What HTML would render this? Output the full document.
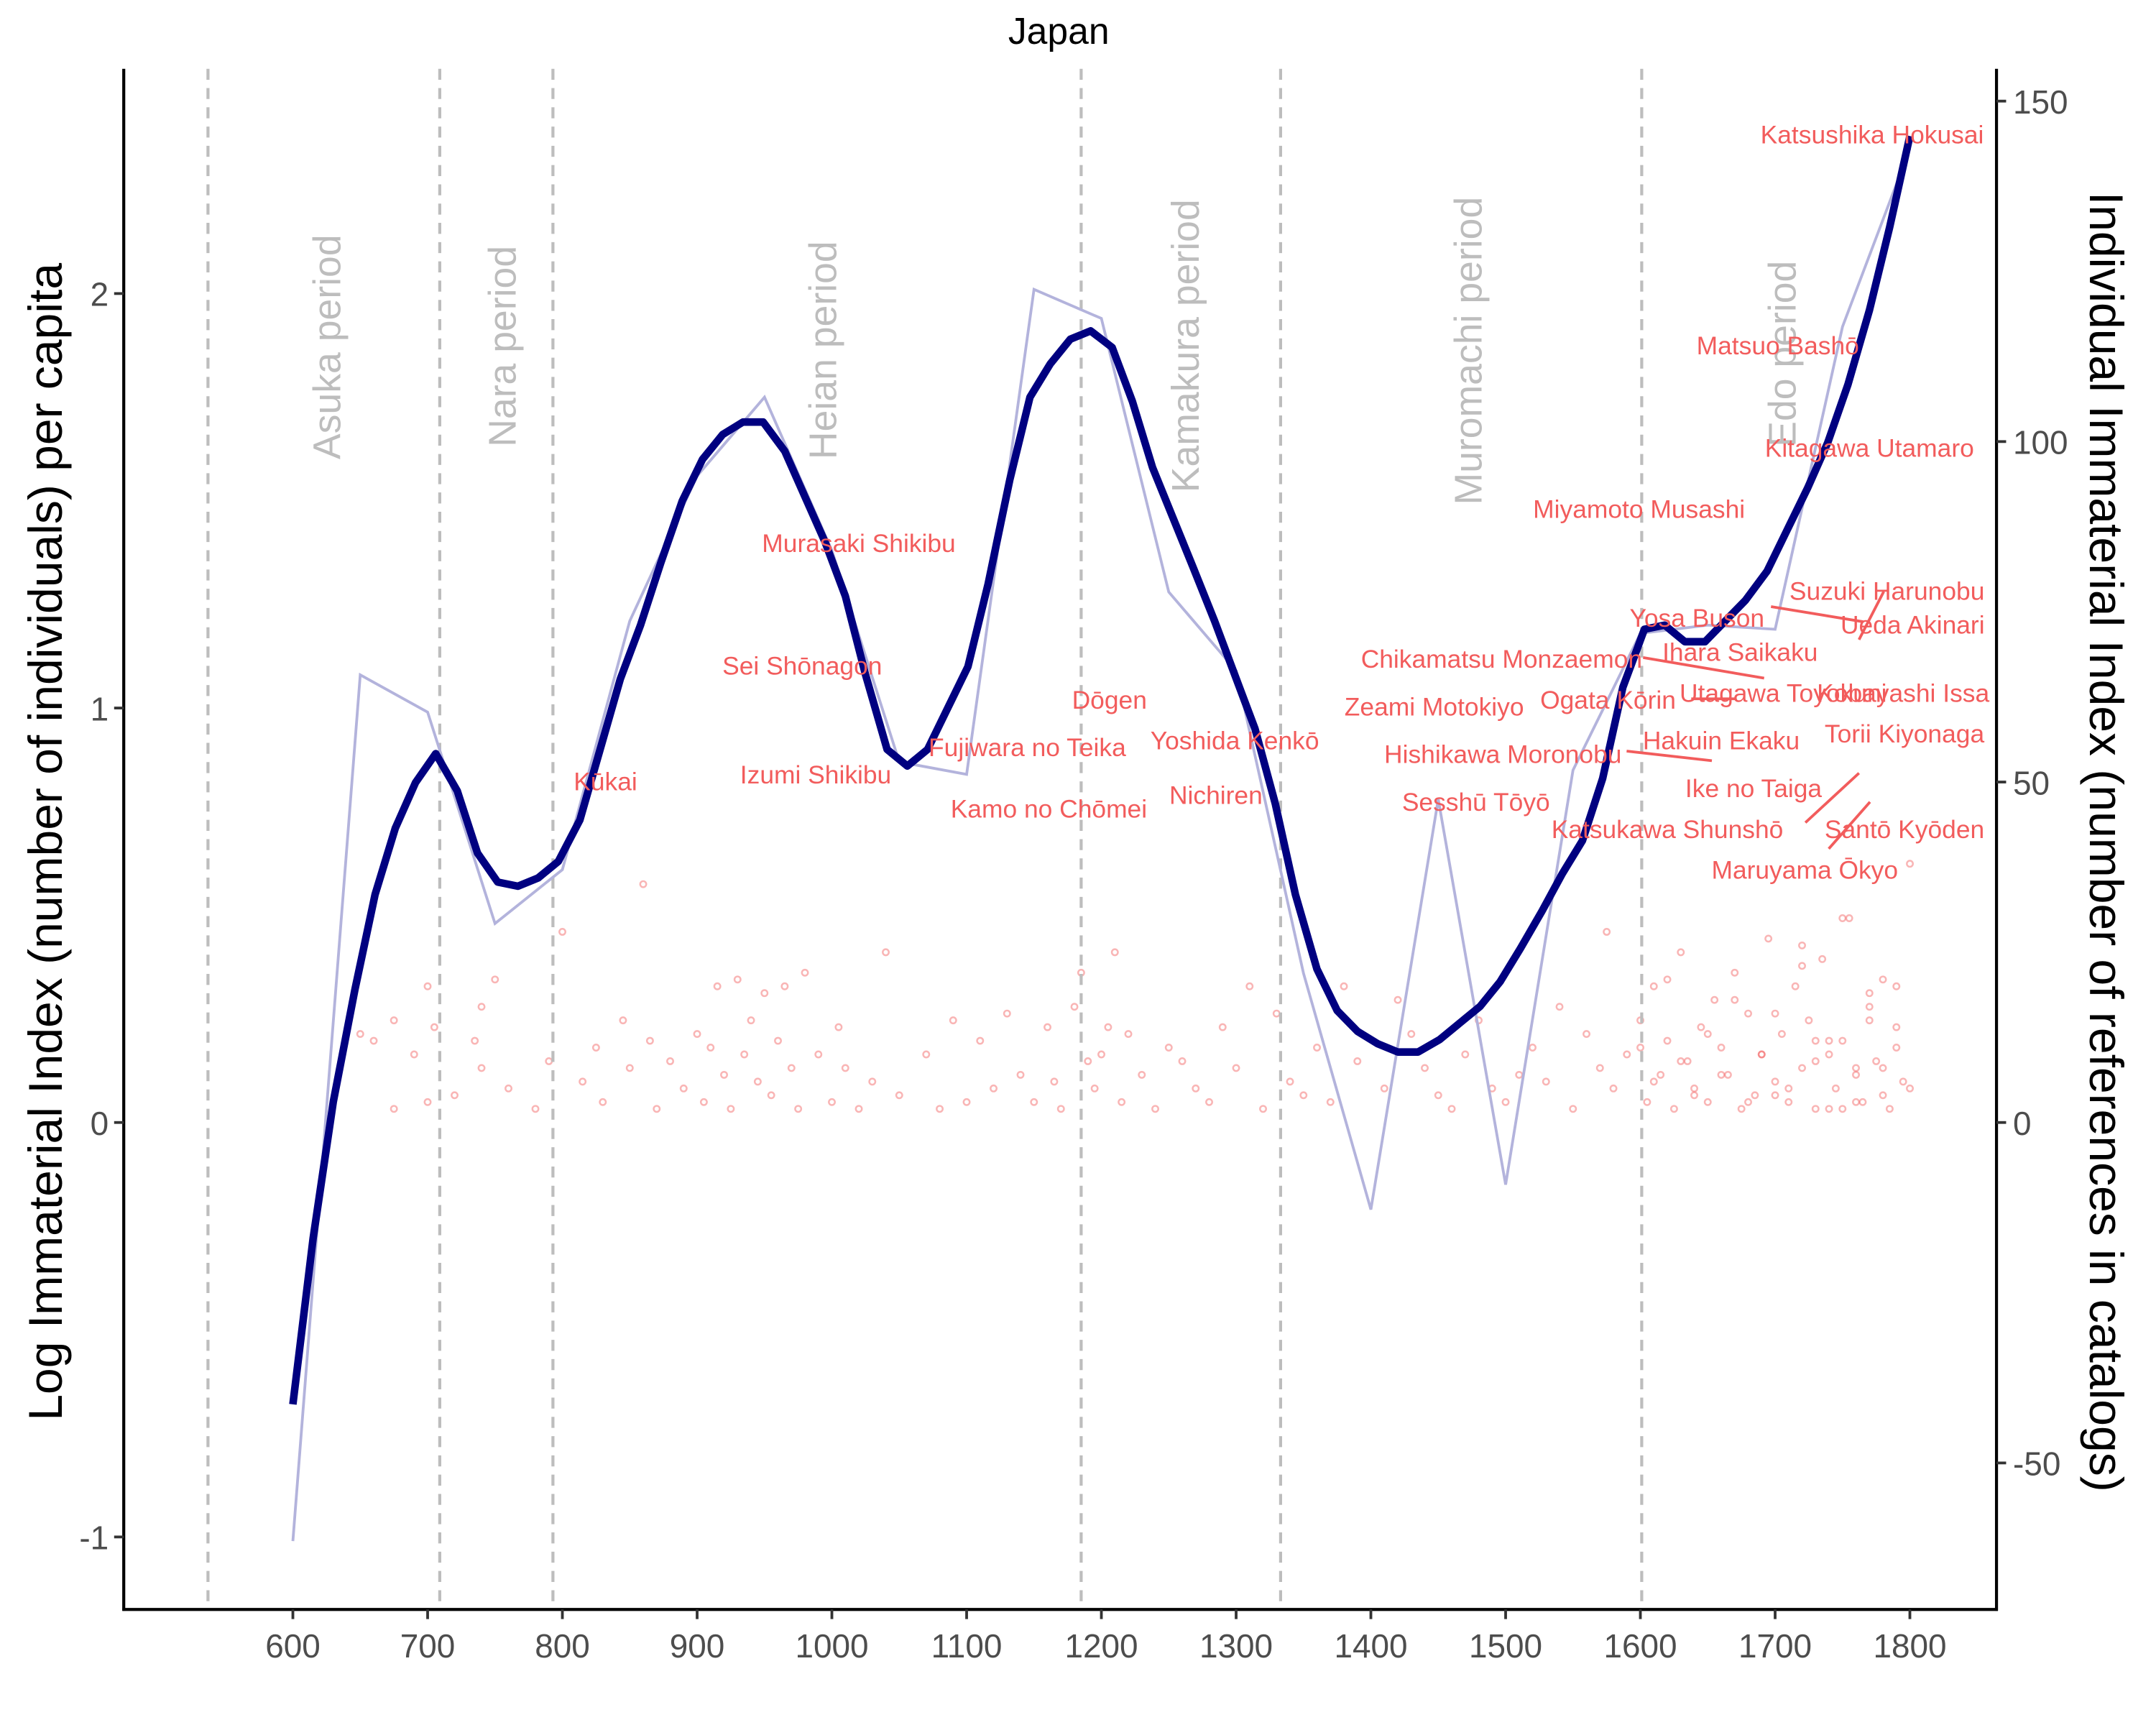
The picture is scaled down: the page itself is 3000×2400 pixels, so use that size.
<!DOCTYPE html>
<html><head><meta charset="utf-8"><style>
html,body{margin:0;padding:0;background:#fff;}
svg{display:block;font-family:"Liberation Sans","Noto Sans CJK JP",sans-serif;}
</style></head><body>
<svg id="chart" width="3000" height="2400" viewBox="0 0 1568 1254" preserveAspectRatio="none" xmlns="http://www.w3.org/2000/svg">
<g id="dots"></g>
<g id="vlines"></g>
<g id="periods"></g>
<g id="lines"></g>
<g id="labels"></g>
<g id="axes"></g>
<text x="770" y="32" text-anchor="middle" font-size="27" fill="#000">Japan</text>
<text transform="translate(45,612) rotate(-90)" text-anchor="middle" font-size="34.5" fill="#000">Log Immaterial Index (number of individuals) per capita</text>
<text transform="translate(1520,612) rotate(90)" text-anchor="middle" font-size="34.5" fill="#000">Individual Immaterial Index (number of references in catalogs)</text>
</svg>
<script>
const smoothYears=[600,615,630,646,661,676,691,706,722,737,752,767,782,797,813,828,843,858,873,889,904,919,934,949,965,980,995,1010,1025,1041,1056,1071,1086,1101,1116,1132,1147,1162,1177,1192,1208,1223,1238,1253,1268,1284,1299,1314,1329,1344,1360,1375,1390,1405,1420,1435,1451,1466,1481,1496,1511,1527,1542,1557,1572,1587,1603,1618,1633,1648,1663,1678,1694,1709,1724,1739,1754,1770,1785,1800];
const smoothValues=[-0.68,-0.28,0.05,0.32,0.55,0.71,0.82,0.89,0.80,0.65,0.58,0.57,0.59,0.63,0.73,0.9,1.07,1.2,1.35,1.5,1.6,1.66,1.69,1.69,1.62,1.51,1.4,1.27,1.08,0.9,0.86,0.9,1.0,1.1,1.3,1.55,1.75,1.83,1.89,1.91,1.87,1.74,1.58,1.46,1.34,1.21,1.08,0.95,0.77,0.55,0.37,0.27,0.22,0.19,0.17,0.17,0.2,0.24,0.28,0.34,0.42,0.51,0.6,0.68,0.83,1.05,1.19,1.2,1.16,1.16,1.21,1.26,1.33,1.43,1.53,1.64,1.78,1.96,2.16,2.38];
const rawYears=[600,650,700,750,800,850,900,950,1000,1050,1100,1150,1200,1250,1300,1350,1400,1450,1500,1550,1600,1650,1700,1750,1800];
const rawValues=[-1.01,1.08,0.99,0.48,0.61,1.21,1.56,1.75,1.38,0.87,0.84,2.01,1.94,1.28,1.09,0.36,-0.21,0.78,-0.15,0.85,1.18,1.2,1.19,1.92,2.35];
const periodBreaks=[537,709,793,1185,1333,1601];
const periodNames=["Asuka period","Nara period","Heian period","Kamakura period","Muromachi period","Edo period"];
const periodYears=[625,755,993,1262,1472,1705];
const periodBottoms=[1.6,1.63,1.6,1.52,1.49,1.63];
const xTicks=[600,700,800,900,1000,1100,1200,1300,1400,1500,1600,1700,1800];
const yTicks=[-1,0,1,2];
const y2Ticks=[-50,0,50,100,150];
const personNames=["Katsushika Hokusai","Matsuo Bashō","Kitagawa Utamaro","Miyamoto Musashi","Suzuki Harunobu","Yosa Buson","Ueda Akinari","Ihara Saikaku","Chikamatsu Monzaemon","Ogata Kōrin","Utagawa Toyokuni","Kobayashi Issa","Zeami Motokiyo","Hakuin Ekaku","Torii Kiyonaga","Hishikawa Moronobu","Ike no Taiga","Sesshū Tōyō","Katsukawa Shunshō","Santō Kyōden","Maruyama Ōkyo","Murasaki Shikibu","Sei Shōnagon","Izumi Shikibu","Kūkai","Dōgen","Fujiwara no Teika","Yoshida Kenkō","Kamo no Chōmei","Nichiren"];
const personYears=[1772,1702,1770,1599,1783,1642,1802,1674,1497,1576,1706,1795,1447,1660,1796,1498,1684,1478,1620,1796,1722,1020,978,988,832,1206,1145,1299,1161,1285];
const personRefs=[145,114,99,90,78,74,73,69,68,62,63,63,61,56,57,54,49,47,43,43,37,85,67,51,50,62,55,56,46,48];
const dotYears=[650,660,675,675,690,700,700,705,720,735,740,740,750,760,780,790,800,815,825,830,845,850,860,865,870,880,890,900,905,910,915,920,925,930,935,940,945,950,955,960,965,970,975,980,990,1000,1005,1010,1020,1030,1040,1050,1070,1080,1090,1100,1110,1120,1130,1140,1150,1160,1165,1170,1180,1185,1190,1195,1200,1205,1210,1215,1220,1230,1240,1250,1260,1270,1280,1290,1300,1310,1320,1330,1340,1350,1360,1370,1380,1390,1410,1420,1430,1440,1450,1460,1470,1480,1490,1500,1510,1520,1530,1540,1550,1560,1570,1575,1580,1590,1600,1605,1610,1615,1620,1625,1630,1635,1640,1645,1650,1655,1660,1665,1670,1675,1680,1685,1690,1695,1700,1705,1710,1715,1720,1725,1730,1735,1740,1745,1750,1755,1760,1765,1770,1775,1780,1785,1790,1795,1800,1790,1780,1770,1760,1750,1740,1730,1720,1710,1700,1690,1680,1670,1660,1650,1640,1630,1620,1610,1600,1760,1770,1780,1790,1800,1750,1740,1730,1720,1700];
const dotRefs=[13,12,2,15,10,3,20,14,4,12,17,8,21,5,2,9,28,6,11,3,15,8,35,12,2,9,5,13,3,11,20,7,2,21,10,15,6,19,4,12,20,8,2,22,10,3,14,8,2,6,25,4,10,2,15,3,12,5,16,7,3,14,6,2,17,22,9,5,10,14,25,3,13,7,2,11,9,5,3,14,8,20,2,16,6,4,11,3,20,9,5,18,13,8,4,2,10,15,5,3,7,11,6,17,2,13,8,28,5,10,15,3,20,7,12,2,25,9,5,14,3,18,11,7,22,2,16,4,10,27,6,13,3,20,8,15,2,24,10,5,12,30,7,3,17,9,21,2,14,6,38,11,4,19,8,30,2,12,23,5,16,10,3,18,7,13,4,9,21,6,11,3,15,8,20,5,2,12,9,26,4,33,13,7,18,25,3,6];
const NS="http://www.w3.org/2000/svg";
function xs(y){return 213+(y-600)*0.98;}
function ys(v){return 816-v*301.3;}
function ys2(r){return 816-r*4.95;}
function mk(tag,attrs,parent){const e=document.createElementNS(NS,tag);for(const k in attrs)e.setAttribute(k,attrs[k]);parent.appendChild(e);return e;}
const gd=document.getElementById('dots');
dotYears.forEach((yr,i)=>{const c=mk('circle',{cx:xs(yr),cy:ys2(dotRefs[i]),r:2.2,fill:'none',stroke:'#f25c5c','stroke-opacity':0.45,'stroke-width':1.3},gd);

});
const gv=document.getElementById('vlines');
periodBreaks.forEach(b=>{const l=mk('line',{x1:xs(b),x2:xs(b),y1:50,y2:1170,stroke:'#bdbdbd','stroke-width':2.2,'stroke-dasharray':'8,6'},gv);

});
const gp=document.getElementById('periods');
periodNames.forEach((n,i)=>{const t=mk('text',{transform:`translate(${xs(periodYears[i])+10},${ys(periodBottoms[i])}) rotate(-90)`,'font-size':28,fill:'#bdbdbd'},gp);t.textContent=n;

});
const gl=document.getElementById('lines');
const raw=mk('polyline',{points:rawYears.map((y,i)=>xs(y)+','+ys(rawValues[i])).join(' '),fill:'none',stroke:'#b3b3dc','stroke-width':2},gl);


const sm=mk('polyline',{points:smoothYears.map((y,i)=>xs(y)+','+ys(smoothValues[i])).join(' '),fill:'none',stroke:'#000080','stroke-width':5.5,'stroke-linejoin':'round'},gl);


const glb=document.getElementById('labels');
const leaders=[[1288,441,1355,452],[1370,430,1352,465],[1195,478,1283,493],[1230,508,1262,508],[1183,546,1245,553],[1352,562,1313,598],[1360,583,1330,617]];
leaders.forEach(a=>{const l=mk('line',{x1:a[0],y1:a[1],x2:a[2],y2:a[3],stroke:'#f25c5c','stroke-width':2},glb);

});
personNames.forEach((n,i)=>{const t=mk('text',{x:xs(personYears[i]),y:ys2(personRefs[i])+6,'text-anchor':'middle','font-size':18.5,fill:'#f25c5c'},glb);t.textContent=n;

});
const ga=document.getElementById('axes');
mk('line',{x1:90,y1:50,x2:90,y2:1171,stroke:'#000','stroke-width':2.2},ga);
mk('line',{x1:89,y1:1170,x2:1453,y2:1170,stroke:'#000','stroke-width':2.2},ga);
mk('line',{x1:1452,y1:50,x2:1452,y2:1171,stroke:'#000','stroke-width':2.2},ga);
xTicks.forEach(v=>{mk('line',{x1:xs(v),x2:xs(v),y1:1170,y2:1177,stroke:'#333','stroke-width':2},ga);
const t=mk('text',{x:xs(v),y:1205,'text-anchor':'middle','font-size':24,fill:'#4d4d4d'},ga);t.textContent=v;

});
yTicks.forEach(v=>{mk('line',{x1:83,x2:90,y1:ys(v),y2:ys(v),stroke:'#333','stroke-width':2},ga);
const t=mk('text',{x:79,y:ys(v)+9,'text-anchor':'end','font-size':24,fill:'#4d4d4d'},ga);t.textContent=v;

});
y2Ticks.forEach(v=>{mk('line',{x1:1452,x2:1459,y1:ys2(v),y2:ys2(v),stroke:'#333','stroke-width':2},ga);
const t=mk('text',{x:1464,y:ys2(v)+9,'font-size':24,fill:'#4d4d4d'},ga);t.textContent=v;

});
</script>
</body></html>
